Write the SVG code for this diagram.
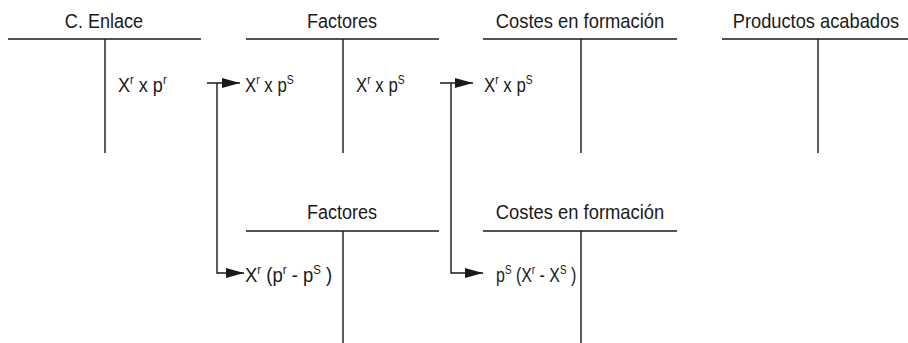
<svg xmlns="http://www.w3.org/2000/svg" width="908" height="343" viewBox="0 0 908 343">
<style>
.ln{stroke:#1a1a1a;stroke-width:1.4;fill:none}
.t{font-family:"Liberation Sans",Arial,sans-serif;font-size:21px;fill:#1a1a1a}
.ttl{text-anchor:middle}
.sup{font-size:13px}
</style>
<defs>
<marker id="ah" viewBox="0 0 18 10" refX="18" refY="5" markerWidth="18" markerHeight="10" markerUnits="userSpaceOnUse" orient="auto">
<path d="M0,0 L18,5 L0,10 Z" fill="#1a1a1a"/>
</marker>
</defs>
<rect width="908" height="343" fill="#fff"/>
<g id="enlace">
<path class="ln" d="M8,39 H201 M105,39 V153"/>
<text class="t ttl" transform="translate(104,28) scale(0.86,1)">C. Enlace</text>
<text class="t" transform="translate(118,92) scale(0.86,1)">X<tspan class="sup" dy="-8">r</tspan><tspan dy="8"> x p</tspan><tspan class="sup" dy="-8">r</tspan></text>
</g>
<g id="factores1">
<path class="ln" d="M246,39 H439 M343,39 V153"/>
<text class="t ttl" transform="translate(342,28) scale(0.86,1)">Factores</text>
<text class="t" transform="translate(245,92) scale(0.8,1)">X<tspan class="sup" dy="-8">r</tspan><tspan dy="8"> x p</tspan><tspan class="sup" dy="-8">S</tspan></text>
<text class="t" transform="translate(356,92) scale(0.8,1)">X<tspan class="sup" dy="-8">r</tspan><tspan dy="8"> x p</tspan><tspan class="sup" dy="-8">S</tspan></text>
</g>
<g id="costes1">
<path class="ln" d="M483,39 H677 M581,39 V153"/>
<text class="t ttl" transform="translate(580,28) scale(0.875,1)">Costes en formación</text>
<text class="t" transform="translate(484,92) scale(0.8,1)">X<tspan class="sup" dy="-8">r</tspan><tspan dy="8"> x p</tspan><tspan class="sup" dy="-8">S</tspan></text>
</g>
<g id="productos">
<path class="ln" d="M722,39 H908 M818,39 V153"/>
<text class="t ttl" transform="translate(816,28) scale(0.87,1)">Productos acabados</text>
</g>
<g id="factores2">
<path class="ln" d="M246,231 H439 M343,231 V343"/>
<text class="t ttl" transform="translate(342,219) scale(0.86,1)">Factores</text>
<text class="t" transform="translate(245,282) scale(0.88,1)">X<tspan class="sup" dy="-8">r</tspan><tspan dy="8"> (p</tspan><tspan class="sup" dy="-8">r</tspan><tspan dy="8"> - p</tspan><tspan class="sup" dy="-8">S</tspan><tspan dy="8"> )</tspan></text>
</g>
<g id="costes2">
<path class="ln" d="M483,231 H677 M581,231 V343"/>
<text class="t ttl" transform="translate(580,219) scale(0.875,1)">Costes en formación</text>
<text class="t" transform="translate(496,282) scale(0.76,1)">p<tspan class="sup" dy="-8">S</tspan><tspan dy="8"> (X</tspan><tspan class="sup" dy="-8">r</tspan><tspan dy="8"> - X</tspan><tspan class="sup" dy="-8">S</tspan><tspan dy="8"> )</tspan></text>
</g>
<g id="connectors">
<path class="ln" d="M207,83 H240" marker-end="url(#ah)"/>
<path class="ln" d="M217,83 V273 H244" marker-end="url(#ah)"/>
<path class="ln" d="M440,83 H473" marker-end="url(#ah)"/>
<path class="ln" d="M451,83 V273 H483" marker-end="url(#ah)"/>
</g>
</svg>
